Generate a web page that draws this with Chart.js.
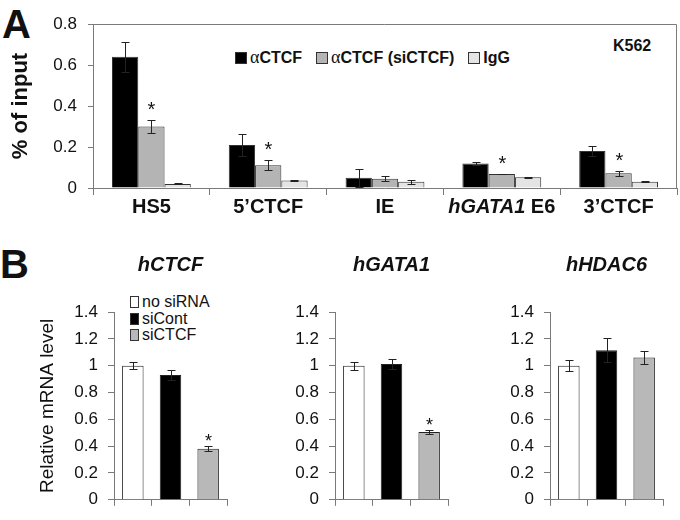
<!DOCTYPE html>
<html>
<head>
<meta charset="utf-8">
<script src="https://cdn.jsdelivr.net/npm/chart.js@4.4.1/dist/chart.umd.min.js"></script>
<style>
  body { margin: 0; width: 680px; height: 520px; position: relative; background: #fff; overflow: hidden;
         font-family: "Liberation Sans", Arial, sans-serif; color: #111; }
  .abs { position: absolute; }
  .letter { font-weight: bold; font-size: 40px; line-height: 1; }
  .legA { left: 235px; top: 47px; display: flex; align-items: center; font-weight: bold; font-size: 16px; white-space: nowrap; }
  .legA .sq { width: 10px; height: 10px; border: 1px solid #333; margin-right: 3px; }
  .legA .item { display: flex; align-items: center; margin-right: 14px; }
  .alpha { font-family: "Liberation Serif", serif; font-weight: normal; font-size: 18px; }
  .legB { left: 130px; top: 294px; font-size: 16px; line-height: 16.5px; }
  .legB .item { display: flex; align-items: center; }
  .legB .sq { width: 7px; height: 10px; border: 1px solid #333; margin-right: 3px; }
</style>
</head>
<body>
<div class="abs letter" style="left:2px;top:4px">A</div>
<div class="abs letter" style="left:0px;top:244px">B</div>
<div class="abs" style="left:613px;top:37px;font-weight:bold;font-size:16px">K562</div>
<div id="legendA" class="abs legA"></div>
<div id="legendB" class="abs legB"></div>

<canvas id="chartA" class="abs" width="680" height="230" style="left:0;top:0"></canvas>
<canvas id="chartB1" class="abs" width="230" height="280" style="left:0;top:240px"></canvas>
<canvas id="chartB2" class="abs" width="230" height="280" style="left:230px;top:240px"></canvas>
<canvas id="chartB3" class="abs" width="230" height="280" style="left:450px;top:240px"></canvas>

<script>
// =====================================================
// DATA - PANEL A (ChIP, % of input)
// =====================================================
const sites = ["HS5", "5\u2019CTCF", "IE", "hGATA1 E6", "3\u2019CTCF"];
const sitesItalic = ["", "", "", "hGATA1", ""];
const seriesA = ["\u03b1CTCF", "\u03b1CTCF (siCTCF)", "IgG"];

const ctcf = [0.64, 0.21, 0.05, 0.12, 0.18];
const ctcfErr = [0.074, 0.053, 0.043, 0.006, 0.025];
const ctcfSi = [0.30, 0.111, 0.045, 0.068, 0.072];
const ctcfSiErr = [0.033, 0.025, 0.013, 0.002, 0.012];
const igg = [0.02, 0.037, 0.031, 0.052, 0.031];
const iggErr = [0.002, 0.003, 0.01, 0.003, 0.004];
const starsA = [true, true, false, true, true];
const ticksA = [0, 0.2, 0.4, 0.6, 0.8];

// =====================================================
// DATA - PANEL B (relative mRNA level)
// =====================================================
const conditions = ["no siRNA", "siCont", "siCTCF"];
const genes = ["hCTCF", "hGATA1", "hHDAC6"];
const mrnaCTCF = [1.0, 0.93, 0.38];
const mrnaCTCFErr = [0.028, 0.035, 0.018];
const mrnaGATA1 = [1.0, 1.013, 0.506];
const mrnaGATA1Err = [0.03, 0.038, 0.017];
const mrnaHDAC6 = [1.0, 1.115, 1.061];
const mrnaHDAC6Err = [0.04, 0.09, 0.05];
const starsB1 = [false, false, true];
const starsB2 = [false, false, true];
const starsB3 = [false, false, false];
const ticksB = [0, 0.2, 0.4, 0.6, 0.8, 1, 1.2, 1.4];

// =====================================================
// STYLE
// =====================================================
const FONT = '"Liberation Sans", Arial, sans-serif';
const colorsA = ["#000000", "#b4b4b4", "#e4e4e4"];
const colorsB = ["#ffffff", "#000000", "#b8b8b8"];
const AXIS = "#7a7a7a";

// =====================================================
// PLUGINS
// =====================================================
// error bars + asterisks, read from dataset.errors / dataset.stars
const errorBars = {
  id: "errorBars",
  afterDatasetsDraw(chart, args, opts) {
    const { ctx } = chart;
    const y = chart.scales.y;
    ctx.save();
    chart.data.datasets.forEach((ds, di) => {
      const meta = chart.getDatasetMeta(di);
      meta.data.forEach((bar, i) => {
        const v = ds.data[i];
        const e = ds.errors[i];
        const top = Math.round(y.getPixelForValue(v + e)) + 0.5;
        const bot = Math.round(y.getPixelForValue(v - e)) + 0.5;
        const x = Math.round(bar.x) + 0.5;
        ctx.strokeStyle = "#222";
        ctx.lineWidth = 1;
        ctx.beginPath();
        ctx.moveTo(x, top); ctx.lineTo(x, bot);
        ctx.moveTo(x - opts.cap, top); ctx.lineTo(x + opts.cap, top);
        ctx.moveTo(x - opts.cap, bot); ctx.lineTo(x + opts.cap, bot);
        ctx.stroke();
        if (ds.stars && ds.stars[i]) {
          ctx.fillStyle = "#111";
          ctx.font = opts.starFont;
          ctx.textAlign = "center";
          ctx.textBaseline = "alphabetic";
          ctx.fillText("*", x, top - opts.starGap);
        }
      });
    });
    ctx.restore();
  }
};

// top + right frame of panel A
const frameA = {
  id: "frameA",
  afterDraw(chart) {
    const { ctx, chartArea: a } = chart;
    ctx.save();
    ctx.strokeStyle = AXIS;
    ctx.lineWidth = 1;
    ctx.beginPath();
    ctx.moveTo(a.left, a.top + 0.5);
    ctx.lineTo(a.right - 0.5, a.top + 0.5);
    ctx.lineTo(a.right - 0.5, a.bottom);
    ctx.stroke();
    ctx.restore();
  }
};

// category labels with an italic gene name part
const siteLabels = {
  id: "siteLabels",
  afterDraw(chart) {
    const { ctx } = chart;
    const x = chart.scales.x;
    const y = chart.chartArea.bottom + 19;
    const fIt = "italic bold 20px " + FONT;
    const fN = "bold 20px " + FONT;
    ctx.save();
    ctx.fillStyle = "#111";
    ctx.textBaseline = "middle";
    ctx.textAlign = "left";
    sites.forEach((s, i) => {
      const it = sitesItalic[i];
      const rest = s.slice(it.length);
      ctx.font = fIt;
      const wIt = it ? ctx.measureText(it).width : 0;
      ctx.font = fN;
      const wN = ctx.measureText(rest).width;
      let cx = x.getPixelForValue(i) - (wIt + wN) / 2;
      if (it) {
        ctx.font = fIt;
        ctx.fillText(it, cx, y);
        cx += wIt;
        ctx.font = fN;
      }
      ctx.fillText(rest, cx, y);
    });
    ctx.restore();
  }
};

// gene title over each small chart
const geneTitle = {
  id: "geneTitle",
  afterDraw(chart, args, opts) {
    const { ctx, chartArea: a } = chart;
    ctx.save();
    ctx.font = "italic bold 20px " + FONT;
    ctx.fillStyle = "#111";
    ctx.textAlign = "center";
    ctx.textBaseline = "middle";
    ctx.fillText(opts.text, (a.left + a.right) / 2, opts.y);
    ctx.restore();
  }
};

// =====================================================
// PANEL A
// =====================================================
const datasA = [ctcf, ctcfSi, igg];
const errsA = [ctcfErr, ctcfSiErr, iggErr];

new Chart(document.getElementById("chartA"), {
  type: "bar",
  data: {
    labels: sites,
    datasets: seriesA.map((name, k) => ({
      label: name,
      data: datasA[k],
      errors: errsA[k],
      stars: k === 1 ? starsA : null,
      backgroundColor: colorsA[k],
      borderColor: "#333",
      borderWidth: 1,
      categoryPercentage: 0.675,
      barPercentage: 1
    }))
  },
  options: {
    responsive: false,
    animation: false,
    layout: { padding: { top: 24, right: 3, left: 0, bottom: 0 } },
    plugins: {
      legend: { display: false },
      tooltip: { enabled: false },
      errorBars: { cap: 4, starFont: "20px " + FONT, starGap: 5 }
    },
    scales: {
      x: {
        grid: { offset: true, drawOnChartArea: false, drawTicks: true, tickLength: 7, color: AXIS },
        border: { color: AXIS },
        ticks: { display: false },
        afterFit: s => { s.height = 42; }
      },
      y: {
        min: 0, max: 0.8,
        afterBuildTicks: s => { s.ticks = ticksA.map(v => ({ value: v })); },
        grid: { drawOnChartArea: false, drawTicks: true, tickLength: 5, color: AXIS },
        border: { color: AXIS },
        ticks: { callback: v => String(v), padding: 11, color: "#111", font: { family: FONT, size: 17 } },
        title: { display: true, text: "% of input", color: "#111", padding: { top: 8, bottom: 0 },
                 font: { family: FONT, size: 22, weight: "bold" } },
        afterFit: s => { s.width = 93; }
      }
    }
  },
  plugins: [errorBars, frameA, siteLabels]
});

// =====================================================
// PANEL B
// =====================================================
function makeMrnaChart(id, gene, values, errors, stars, yWidth, padRight, showTitle) {
  return new Chart(document.getElementById(id), {
    type: "bar",
    data: {
      labels: conditions,
      datasets: [{
        label: gene,
        data: values,
        errors: errors,
        stars: stars,
        backgroundColor: colorsB,
        borderColor: "#222",
        borderWidth: 1,
        categoryPercentage: 0.57,
        barPercentage: 1
      }]
    },
    options: {
      responsive: false,
      animation: false,
      layout: { padding: { top: 72, right: padRight, left: 0, bottom: 0 } },
      plugins: {
        legend: { display: false },
        tooltip: { enabled: false },
        errorBars: { cap: 4, starFont: "18px " + FONT, starGap: 0 },
        geneTitle: { text: gene, y: 25 }
      },
      scales: {
        x: {
          grid: { offset: true, drawOnChartArea: false, drawTicks: true, tickLength: 6, color: AXIS },
          border: { color: AXIS },
          ticks: { display: false },
          afterFit: s => { s.height = 12; }
        },
        y: {
          min: 0, max: 1.4,
          afterBuildTicks: s => { s.ticks = ticksB.map(v => ({ value: v })); },
          grid: { drawOnChartArea: false, drawTicks: true, tickLength: 6, color: AXIS },
          border: { color: AXIS },
          ticks: { callback: v => String(v), padding: 10, color: "#111", font: { family: FONT, size: 17 } },
          title: { display: showTitle, text: "Relative mRNA level", color: "#111", padding: { top: 36, bottom: 0 },
                   font: { family: FONT, size: 19 } },
          afterFit: s => { s.width = yWidth; }
        }
      }
    },
    plugins: [errorBars, geneTitle]
  });
}

makeMrnaChart("chartB1", genes[0], mrnaCTCF, mrnaCTCFErr, starsB1, 114, 3, true);
makeMrnaChart("chartB2", genes[1], mrnaGATA1, mrnaGATA1Err, starsB2, 105, 12, false);
makeMrnaChart("chartB3", genes[2], mrnaHDAC6, mrnaHDAC6Err, starsB3, 100, 17, false);

// =====================================================
// LEGENDS (HTML)
// =====================================================
const legA = document.getElementById("legendA");
seriesA.forEach((name, k) => {
  const item = document.createElement("div");
  item.className = "item";
  const sq = document.createElement("span");
  sq.className = "sq";
  sq.style.background = colorsA[k];
  const txt = document.createElement("span");
  const a = document.createElement("span");
  a.className = "alpha";
  if (name.startsWith("\u03b1")) {
    a.textContent = "\u03b1";
    txt.appendChild(a);
    txt.appendChild(document.createTextNode(name.slice(1)));
  } else {
    txt.textContent = name;
  }
  item.appendChild(sq);
  item.appendChild(txt);
  legA.appendChild(item);
});

const legB = document.getElementById("legendB");
conditions.forEach((name, k) => {
  const item = document.createElement("div");
  item.className = "item";
  const sq = document.createElement("span");
  sq.className = "sq";
  sq.style.background = colorsB[k];
  const txt = document.createElement("span");
  txt.textContent = name;
  item.appendChild(sq);
  item.appendChild(txt);
  legB.appendChild(item);
});
</script>
</body>
</html>
